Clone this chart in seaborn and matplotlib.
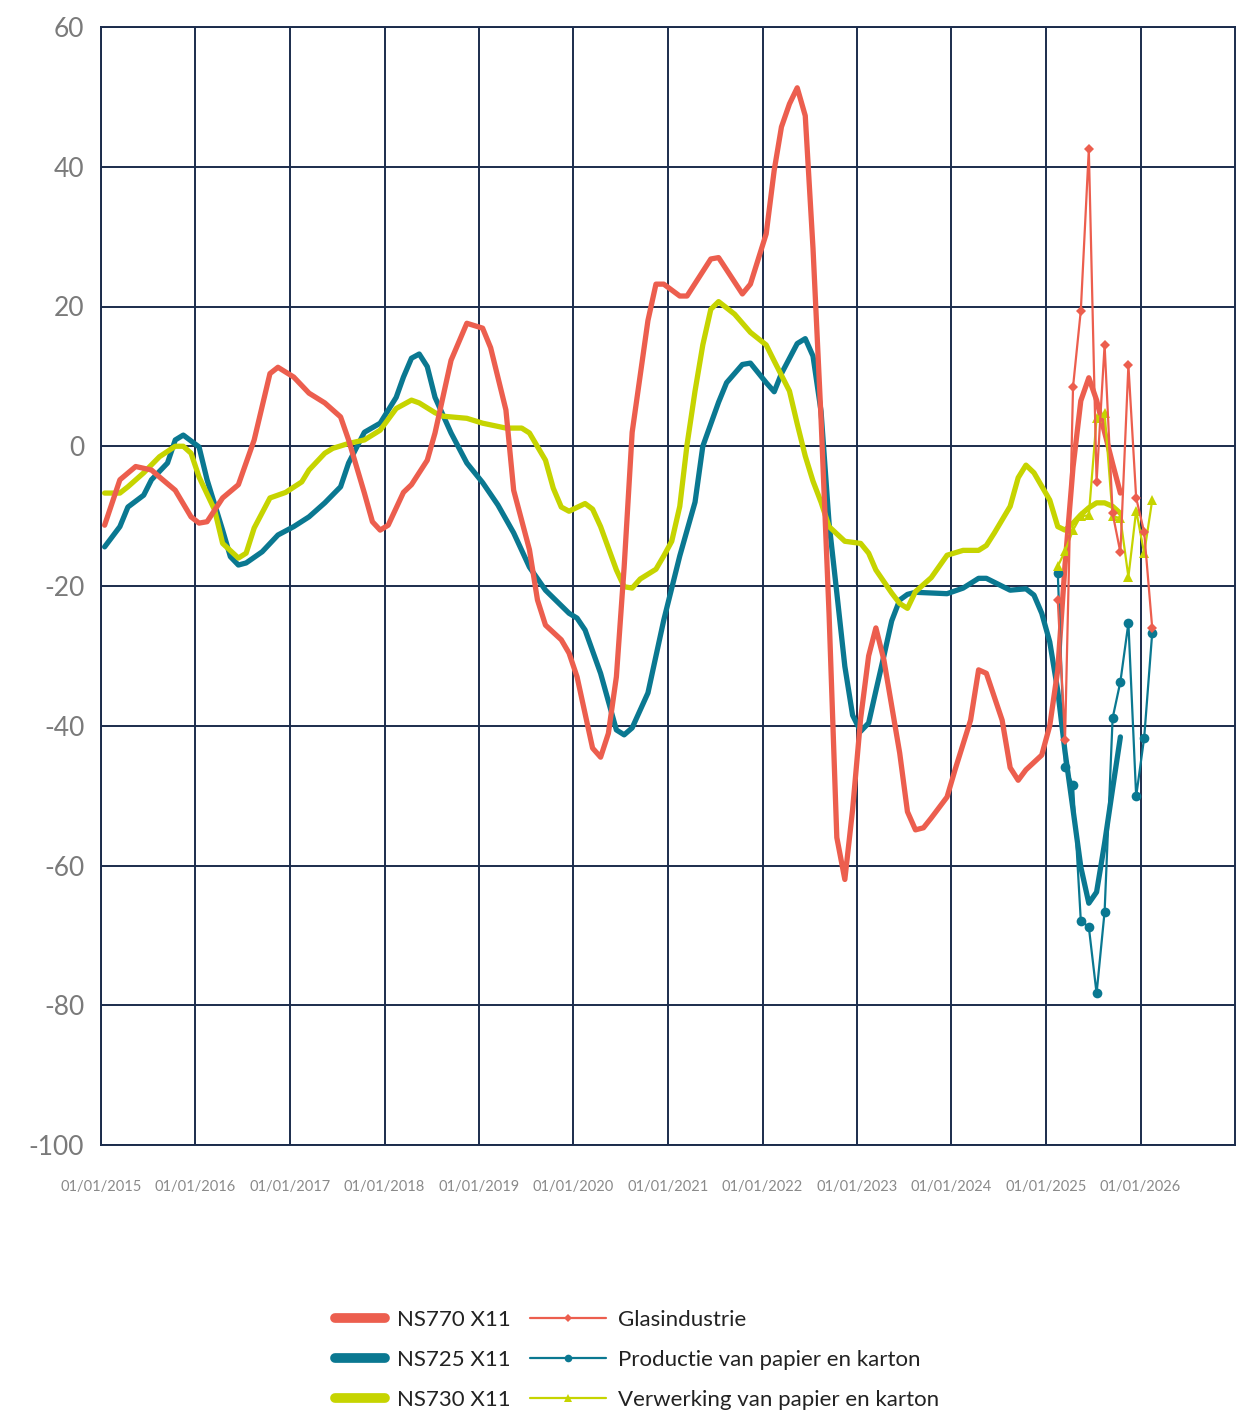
import pandas as pd
import matplotlib
matplotlib.use("Agg")
import matplotlib.pyplot as plt
from matplotlib.lines import Line2D
import seaborn as sns

# smoothed monthly indicators (X11)
ns770_months = ['2015-01', '2015-03', '2015-05', '2015-07', '2015-08', '2015-10', '2015-12', '2016-01',
                '2016-02', '2016-04', '2016-06', '2016-08', '2016-10', '2016-11', '2017-01', '2017-03',
                '2017-05', '2017-07', '2017-08', '2017-10', '2017-11', '2017-12', '2018-01', '2018-03',
                '2018-04', '2018-06', '2018-07', '2018-09', '2018-11', '2019-01', '2019-02', '2019-04',
                '2019-05', '2019-07', '2019-08', '2019-09', '2019-11', '2019-12', '2020-01', '2020-03',
                '2020-04', '2020-05', '2020-06', '2020-07', '2020-08', '2020-10', '2020-11', '2020-12',
                '2021-02', '2021-03', '2021-06', '2021-07', '2021-10', '2021-11', '2022-01', '2022-02',
                '2022-03', '2022-04', '2022-05', '2022-06', '2022-07', '2022-08', '2022-09', '2022-10',
                '2022-11', '2022-12', '2023-01', '2023-02', '2023-03', '2023-04', '2023-06', '2023-07',
                '2023-08', '2023-09', '2023-10', '2023-12', '2024-01', '2024-03', '2024-04', '2024-05',
                '2024-07', '2024-08', '2024-09', '2024-10', '2024-12', '2025-01', '2025-02', '2025-03',
                '2025-04', '2025-05', '2025-06', '2025-07', '2025-08', '2025-09', '2025-10']
ns770_values = [-11.3, -4.8, -2.9, -3.4, -4.4, -6.3, -10.1, -11, -10.8, -7.4, -5.5, 0.9, 10.4, 11.3,
                9.9, 7.6, 6.2, 4.2, 0.9, -6.7, -10.8, -12, -11.3, -6.6, -5.5, -2, 1.9, 12.3, 17.6, 16.9,
                14.1, 5.2, -6.3, -14.8, -22, -25.6, -27.7, -29.6, -33, -43.2, -44.5, -41.1, -33, -17.3,
                2, 18, 23.2, 23.2, 21.5, 21.5, 26.8, 27, 21.8, 23.2, 30.4, 39.5, 45.7, 49, 51.3, 47.3,
                28.3, 4, -24, -56, -62, -52, -39, -30, -26, -30.6, -43.9, -52.3, -54.9, -54.6, -53.2,
                -50.2, -46.3, -39.2, -32, -32.5, -39.2, -46, -47.8, -46.3, -44.2, -40, -32, -17, -3,
                6.5, 9.8, 6.6, 2, -2.5, -6.7]

ns725_months = ['2015-01', '2015-03', '2015-04', '2015-06', '2015-07', '2015-09', '2015-10', '2015-11',
                '2016-01', '2016-02', '2016-04', '2016-05', '2016-06', '2016-07', '2016-09', '2016-11',
                '2017-01', '2017-03', '2017-05', '2017-07', '2017-08', '2017-10', '2017-12', '2018-02',
                '2018-03', '2018-04', '2018-05', '2018-06', '2018-07', '2018-09', '2018-11', '2019-01',
                '2019-03', '2019-05', '2019-07', '2019-09', '2019-12', '2020-01', '2020-02', '2020-04',
                '2020-06', '2020-07', '2020-08', '2020-10', '2020-12', '2021-02', '2021-04', '2021-05',
                '2021-07', '2021-08', '2021-10', '2021-11', '2022-01', '2022-02', '2022-03', '2022-05',
                '2022-06', '2022-07', '2022-08', '2022-09', '2022-10', '2022-11', '2022-12', '2023-01',
                '2023-02', '2023-03', '2023-04', '2023-05', '2023-06', '2023-07', '2023-08', '2023-12',
                '2024-02', '2024-04', '2024-05', '2024-08', '2024-10', '2024-11', '2024-12', '2025-01',
                '2025-02', '2025-03', '2025-04', '2025-05', '2025-06', '2025-07', '2025-08', '2025-09',
                '2025-10']
ns725_values = [-14.4, -11.5, -8.7, -7, -4.8, -2.4, 0.9, 1.6, -0.1, -4.8, -12, -15.8, -17, -16.7,
                -15.1, -12.7, -11.5, -10.1, -8.1, -5.8, -2.4, 2, 3.3, 7, 9.9, 12.6, 13.2, 11.4, 7, 1.9,
                -2.4, -5.2, -8.4, -12.4, -17.3, -20.6, -23.9, -24.6, -26.3, -32.5, -40.6, -41.3, -40.3,
                -35.3, -24.9, -15.7, -8, 0, 6.3, 9.1, 11.7, 11.9, 9.1, 7.8, 10.4, 14.7, 15.4, 12.9, 5,
                -11, -21, -31.5, -38.5, -40.8, -39.6, -35, -30, -25, -22, -21.2, -20.9, -21.1, -20.3,
                -18.9, -18.9, -20.6, -20.4, -21.3, -23.9, -28, -35, -43.7, -52, -60.2, -65.4, -63.8,
                -56.8, -49, -41.6]

ns730_months = ['2015-01', '2015-03', '2015-04', '2015-06', '2015-08', '2015-10', '2015-11', '2015-12',
                '2016-01', '2016-03', '2016-04', '2016-06', '2016-07', '2016-08', '2016-10', '2016-12',
                '2017-02', '2017-03', '2017-05', '2017-06', '2017-08', '2017-10', '2017-12', '2018-02',
                '2018-04', '2018-05', '2018-07', '2018-08', '2018-11', '2019-01', '2019-04', '2019-06',
                '2019-07', '2019-09', '2019-10', '2019-11', '2019-12', '2020-02', '2020-03', '2020-04',
                '2020-06', '2020-07', '2020-08', '2020-09', '2020-11', '2020-12', '2021-01', '2021-02',
                '2021-03', '2021-04', '2021-05', '2021-06', '2021-07', '2021-09', '2021-11', '2022-01',
                '2022-02', '2022-04', '2022-05', '2022-06', '2022-07', '2022-08', '2022-09', '2022-11',
                '2023-01', '2023-02', '2023-03', '2023-05', '2023-06', '2023-07', '2023-08', '2023-10',
                '2023-12', '2024-02', '2024-04', '2024-05', '2024-06', '2024-08', '2024-09', '2024-10',
                '2024-11', '2025-01', '2025-02', '2025-03', '2025-04', '2025-05', '2025-06', '2025-07',
                '2025-08', '2025-09', '2025-10']
ns730_values = [-6.7, -6.7, -5.8, -3.8, -1.5, 0, 0, -1, -4.4, -9.1, -13.9, -16, -15.3, -11.7, -7.4,
                -6.6, -5.1, -3.4, -1, -0.3, 0.4, 0.9, 2.3, 5.4, 6.6, 6.2, 4.8, 4.3, 4, 3.3, 2.6, 2.6,
                1.9, -2, -6, -8.7, -9.3, -8.2, -9, -11.5, -17.7, -20.1, -20.3, -19, -17.6, -15.7, -13.6,
                -8.6, 0.2, 7.9, 14.5, 19.6, 20.7, 18.9, 16.3, 14.5, 12.2, 7.9, 3.2, -1.4, -5, -8, -11.5,
                -13.6, -13.9, -15.3, -17.7, -21, -22.5, -23.2, -20.8, -18.8, -15.6, -14.9, -14.9, -14.2,
                -12.4, -8.6, -4.5, -2.7, -3.8, -7.7, -11.5, -12, -11, -9.8, -8.8, -8.1, -8.1, -8.6, -9.6]

# raw monthly sector series
sector_months = ['2025-02', '2025-03', '2025-04', '2025-05', '2025-06', '2025-07', '2025-08',
                 '2025-09', '2025-10', '2025-11', '2025-12', '2026-01', '2026-02']
glas_values = [-22, -42, 8.5, 19.4, 42.5, -5.1, 14.5, -9.6, -15.2, 11.6, -7.4, -12.3, -26]
productie_values = [-18.1, -45.9, -48.5, -67.9, -68.8, -78.3, -66.6, -38.9, -33.7, -25.3, -50.1,
                    -41.7, -26.7]
verwerking_values = [-17.2, -15, -12, -10, -9.9, 4, 4.8, -10, -10.3, -18.7, -9.2, -15.3, -7.7]

RED = '#EC5E4E'
TEAL = '#0A7891'
GREEN = '#C6D400'
GRID = '#1B2C4C'


def to_frame(months, values):
    dates = pd.to_datetime(months, format='%Y-%m') + pd.Timedelta(days=14)
    return pd.DataFrame({'date': dates, 'value': values})


sns.set_style('white')
plt.rcParams['font.family'] = ['Lato', 'DejaVu Sans']
plt.rcParams['axes.unicode_minus'] = False

fig = plt.figure(figsize=(12.55, 14.28), dpi=100)
ax = fig.add_axes([101 / 1255, 1 - 1145 / 1428, 1134 / 1255, 1118 / 1428])

# thick smoothed lines
for months, values, col in [(ns725_months, ns725_values, TEAL),
                            (ns730_months, ns730_values, GREEN),
                            (ns770_months, ns770_values, RED)]:
    sns.lineplot(data=to_frame(months, values), x='date', y='value', color=col,
                 linewidth=3.8, ax=ax, zorder=3)

# thin sector lines with markers
for values, col, mk, ms in [(productie_values, TEAL, 'o', 7),
                            (verwerking_values, GREEN, '^', 7),
                            (glas_values, RED, 'D', 5.5)]:
    sns.lineplot(data=to_frame(sector_months, values), x='date', y='value', color=col,
                 linewidth=1.6, marker=mk, markersize=ms, markeredgewidth=0, ax=ax, zorder=4)

ax.set_xlim(pd.Timestamp('2015-01-01'), pd.Timestamp('2027-01-01'))
ax.set_ylim(-100, 60)
ax.set_yticks(range(-100, 61, 20))
years = pd.date_range('2015-01-01', '2026-01-01', freq='YS')
ax.set_xticks(years)
ax.set_xticklabels([d.strftime('%d/%m/%Y') for d in years])
ax.set_xlabel('')
ax.set_ylabel('')

ax.grid(True, color=GRID, linewidth=1.4)
ax.set_axisbelow(True)
for s in ax.spines.values():
    s.set_visible(True)
    s.set_color(GRID)
    s.set_linewidth(1.4)
ax.tick_params(axis='y', length=0, labelsize=19, labelcolor='#7a7a7a', pad=12)
ax.tick_params(axis='x', length=0, labelsize=10.5, labelcolor='#8a8a8a', pad=25)

# legend: smoothed series left, sectors right
thick_handles = [Line2D([], [], color=c, linewidth=7, solid_capstyle='round') for c in (RED, TEAL, GREEN)]
thin_handles = [Line2D([], [], color=RED, linewidth=1.6, marker='D', markersize=4.5, markeredgewidth=0),
                Line2D([], [], color=TEAL, linewidth=1.6, marker='o', markersize=5.5, markeredgewidth=0),
                Line2D([], [], color=GREEN, linewidth=1.6, marker='^', markersize=5.5, markeredgewidth=0)]
leg_kw = dict(loc='upper left', frameon=False, fontsize=16, handletextpad=0.55, labelspacing=0.89,
              borderpad=0, borderaxespad=0, labelcolor='#222222')
fig.legend(thick_handles, ['NS770 X11', 'NS725 X11', 'NS730 X11'],
           bbox_to_anchor=(335 / 1255, 1 - 1310 / 1428), handlelength=2.25, **leg_kw)
fig.legend(thin_handles, ['Glasindustrie', 'Productie van papier en karton',
                          'Verwerking van papier en karton'],
           bbox_to_anchor=(530 / 1255, 1 - 1310 / 1428), handlelength=3.4, **leg_kw)

fig.savefig('out.png', dpi=100)
